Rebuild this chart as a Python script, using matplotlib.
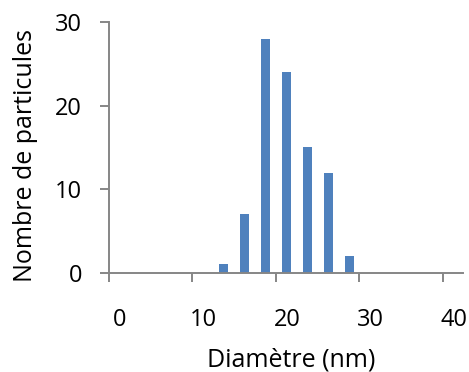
import numpy as np
import matplotlib.pyplot as plt
import matplotlib.transforms as mtransforms

# diametre (centre des classes, nm) et nombre de particules
diametre = [13.75, 16.25, 18.75, 21.25, 23.75, 26.25, 28.75]
nombre = [1, 7, 28, 24, 15, 12, 2]
xticks = [0, 10, 20, 30, 40]
yticks = [0, 10, 20, 30]

plt.rcParams['font.family'] = ['Open Sans', 'DejaVu Sans']
grey = '#868686'

fig = plt.figure(figsize=(4.69, 3.72), dpi=100)
ax = fig.add_axes([0.2324, 0.267, 0.7548, 0.673])
ax.bar(diametre, nombre, width=1.08, color='#4F81BD', zorder=2)

ax.set_xlim(0, 42.4)
ax.set_ylim(0, 30)
ax.set_xticks(xticks)
ax.set_yticks(yticks)
for s in ['top', 'right']:
    ax.spines[s].set_visible(False)
for s in ['left', 'bottom']:
    ax.spines[s].set_color(grey)
    ax.spines[s].set_linewidth(1.4)
ax.tick_params(axis='both', direction='out', color=grey, width=1.4,
               length=6.5, labelsize=17, labelcolor='black')
ax.tick_params(axis='x', pad=19)
ax.tick_params(axis='y', pad=13)

# libelles de l'axe x decales vers la droite comme dans l'original
off = mtransforms.ScaledTranslation(11/100, 0, fig.dpi_scale_trans)
for lab in ax.get_xticklabels():
    lab.set_transform(lab.get_transform() + off)

ax.set_xlabel('Diamètre (nm)', fontsize=18, va='center')
ax.set_ylabel('Nombre de particules', fontsize=18, va='center')
ax.xaxis.set_label_coords(0.514, -0.35)
ax.yaxis.set_label_coords(-0.235, 0.47)

fig.savefig('out.png', dpi=100)
